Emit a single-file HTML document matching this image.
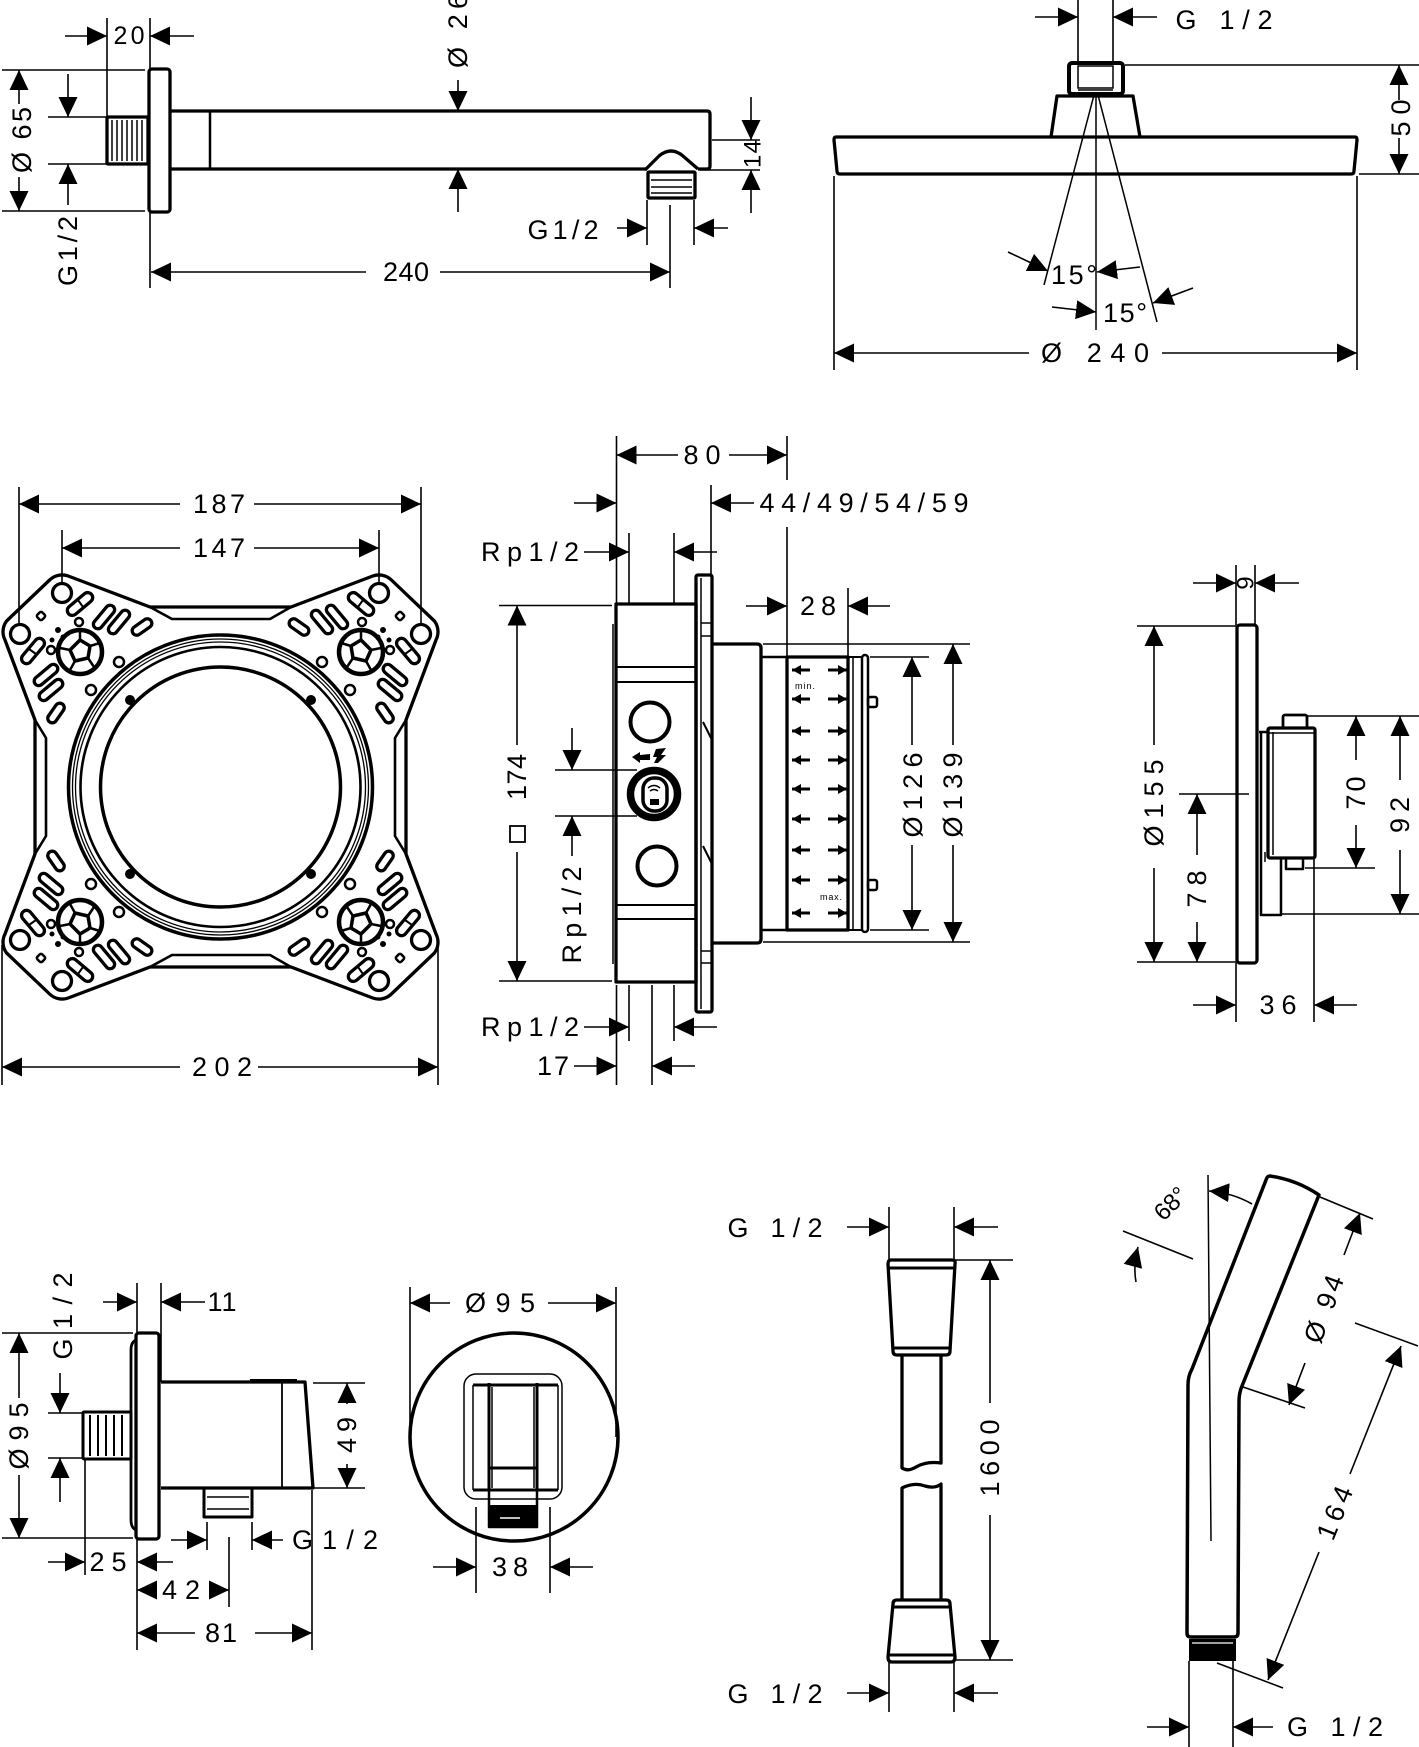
<!DOCTYPE html>
<html><head><meta charset="utf-8">
<style>
html,body{margin:0;padding:0;background:#fff;}
svg{display:block;}
text{font-family:"Liberation Sans","DejaVu Sans",sans-serif;font-size:27px;fill:#000;stroke:none;}
.d{stroke:#000;stroke-width:1.6;fill:none;}
.o{stroke:#000;stroke-width:3.3;fill:none;stroke-linejoin:round;}
.t{stroke:#000;stroke-width:1.5;fill:none;}
</style></head><body>
<svg width="1419" height="1747" viewBox="0 0 1419 1747" xmlns="http://www.w3.org/2000/svg">
<defs>
<marker id="a" markerUnits="userSpaceOnUse" markerWidth="20" markerHeight="20" refX="20" refY="10" orient="auto-start-reverse" viewBox="0 0 20 20"><path d="M0,0.5L20,10L0,19.5z" fill="#000"/></marker>
<marker id="s" markerUnits="userSpaceOnUse" markerWidth="9" markerHeight="10" refX="9" refY="5" orient="auto" viewBox="0 0 9 10"><path d="M0,0L9,5L0,10z" fill="#000"/></marker>
</defs>
<rect width="1419" height="1747" fill="#fff"/>

<!-- ============ 1. Shower arm ============ -->
<g class="o">
<rect x="149" y="69" width="21" height="143" rx="3"/>
<rect x="107" y="117" width="41" height="47" rx="1"/>
<path d="M170,111 H707 Q710,111 710,114 V166 Q710,169 707,169 H698"/>
<path d="M170,169 H646"/>
<line x1="210" y1="111" x2="210" y2="169" stroke-width="2.5"/>
<path d="M645,170 L659,156 Q671,146 683,156 L698,169"/>
<rect x="648" y="172" width="47" height="26" rx="1"/>
</g>
<g class="t">
<line x1="112" y1="120" x2="112" y2="161"/><line x1="117" y1="120" x2="117" y2="161"/><line x1="122" y1="120" x2="122" y2="161"/><line x1="127" y1="120" x2="127" y2="161"/><line x1="132" y1="120" x2="132" y2="161"/><line x1="137" y1="120" x2="137" y2="161"/><line x1="142" y1="120" x2="142" y2="161"/>
<line x1="651" y1="180" x2="692" y2="180"/><line x1="651" y1="187" x2="692" y2="187"/><line x1="651" y1="193" x2="692" y2="193"/>
</g>
<g class="d">
<line x1="107" y1="18" x2="107" y2="117"/>
<line x1="150" y1="18" x2="150" y2="69"/>
<line x1="65" y1="36" x2="107" y2="36" marker-end="url(#a)"/>
<line x1="194" y1="36" x2="150" y2="36" marker-end="url(#a)"/>
<line x1="458" y1="80" x2="458" y2="111" marker-end="url(#a)"/>
<line x1="458" y1="212" x2="458" y2="169" marker-end="url(#a)"/>
<line x1="2" y1="70" x2="145" y2="70"/>
<line x1="2" y1="211" x2="145" y2="211"/>
<line x1="19" y1="104" x2="19" y2="70" marker-end="url(#a)"/>
<line x1="19" y1="177" x2="19" y2="211" marker-end="url(#a)"/>
<line x1="48" y1="117" x2="107" y2="117"/>
<line x1="48" y1="164" x2="107" y2="164"/>
<line x1="68" y1="74" x2="68" y2="117" marker-end="url(#a)"/>
<line x1="68" y1="205" x2="68" y2="164" marker-end="url(#a)"/>
<line x1="712" y1="140" x2="760" y2="140"/>
<line x1="700" y1="170" x2="760" y2="170"/>
<line x1="751" y1="97" x2="751" y2="140" marker-end="url(#a)"/>
<line x1="751" y1="213" x2="751" y2="170" marker-end="url(#a)"/>
<line x1="647" y1="200" x2="647" y2="245"/>
<line x1="694" y1="200" x2="694" y2="245"/>
<line x1="617" y1="228" x2="647" y2="228" marker-end="url(#a)"/>
<line x1="728" y1="228" x2="694" y2="228" marker-end="url(#a)"/>
<line x1="366" y1="272" x2="151" y2="272" marker-end="url(#a)"/>
<line x1="440" y1="272" x2="670" y2="272" marker-end="url(#a)"/>
<line x1="150" y1="212" x2="150" y2="288"/>
<line x1="670" y1="205" x2="670" y2="288"/>
</g>
<text x="129" y="36" text-anchor="middle" dominant-baseline="central" textLength="31" lengthAdjust="spacing" style="font-size:25px">20</text>
<text x="458" y="31" text-anchor="middle" dominant-baseline="central" textLength="74" lengthAdjust="spacing" transform="rotate(-90 458 31)">Ø 26</text>
<text x="22" y="140" text-anchor="middle" dominant-baseline="central" textLength="66" lengthAdjust="spacing" transform="rotate(-90 22 140)">Ø 65</text>
<text x="68" y="251" text-anchor="middle" dominant-baseline="central" textLength="70" lengthAdjust="spacing" transform="rotate(-90 68 251)">G1/2</text>
<text x="753" y="154" text-anchor="middle" dominant-baseline="central" textLength="28" lengthAdjust="spacing" style="font-size:24px" transform="rotate(-90 753 154)">14</text>
<text x="563" y="230" text-anchor="middle" dominant-baseline="central" textLength="71" lengthAdjust="spacing">G1/2</text>
<text x="406" y="272" text-anchor="middle" dominant-baseline="central" textLength="46" lengthAdjust="spacing">240</text>

<!-- ============ 2. Shower head ============ -->
<g class="o">
<rect x="1069" y="63" width="54" height="31" rx="3" stroke-width="4"/>
<path d="M1051,137 L1057,96 L1133,96 L1140,137"/>
<path d="M836,137 L1355,137 Q1357,137 1357,140 L1354,171 Q1354,174 1351,174 L840,174 Q837,174 837,171 L834,140 Q834,137 836,137Z"/>
</g>
<g class="t">
<rect x="1078" y="66" width="35" height="22"/>
<line x1="1078" y1="90" x2="1113" y2="90"/>
<line x1="1096" y1="93" x2="1096" y2="330"/>
<line x1="1094" y1="95" x2="1044" y2="285"/>
<line x1="1098" y1="95" x2="1157" y2="322"/>
</g>
<g class="d">
<line x1="1008" y1="252" x2="1048" y2="271" marker-end="url(#a)"/>
<line x1="1140" y1="267" x2="1097" y2="272" marker-end="url(#a)"/>
<line x1="1052" y1="307" x2="1096" y2="312" marker-end="url(#a)"/>
<line x1="1193" y1="288" x2="1153" y2="303" marker-end="url(#a)"/>
<line x1="1125" y1="65" x2="1419" y2="65"/>
<line x1="1359" y1="174" x2="1419" y2="174"/>
<line x1="1399" y1="100" x2="1399" y2="65" marker-end="url(#a)"/>
<line x1="1399" y1="138" x2="1399" y2="174" marker-end="url(#a)"/>
<line x1="1078" y1="0" x2="1078" y2="63"/>
<line x1="1113" y1="0" x2="1113" y2="63"/>
<line x1="1035" y1="17" x2="1078" y2="17" marker-end="url(#a)"/>
<line x1="1157" y1="17" x2="1113" y2="17" marker-end="url(#a)"/>
<line x1="1029" y1="353" x2="834" y2="353" marker-end="url(#a)"/>
<line x1="1162" y1="353" x2="1357" y2="353" marker-end="url(#a)"/>
<line x1="834" y1="176" x2="834" y2="370"/>
<line x1="1357" y1="176" x2="1357" y2="370"/>
</g>
<text x="1224" y="20" text-anchor="middle" dominant-baseline="central" textLength="97" lengthAdjust="spacing">G 1/2</text>
<text x="1401" y="118" text-anchor="middle" dominant-baseline="central" textLength="37" lengthAdjust="spacing" transform="rotate(-90 1401 118)">50</text>
<text x="1074" y="275" text-anchor="middle" dominant-baseline="central" textLength="46" lengthAdjust="spacing">15°</text>
<text x="1125" y="313" text-anchor="middle" dominant-baseline="central" textLength="44" lengthAdjust="spacing">15°</text>
<text x="1095" y="353" text-anchor="middle" dominant-baseline="central" textLength="108" lengthAdjust="spacing">Ø 240</text>

<!-- ============ 3. Mounting plate ============ -->
<g class="o">
<path d="M35,720 L5,640 A18,18 0 0 1 6.6,621 L49.6,580 A18,18 0 0 1 68.2,576 L150,607 L291,607 L372.8,576 A18,18 0 0 1 391.4,580 L434.4,621 A18,18 0 0 1 436,640 L406,720 L406,854 L436,934 A18,18 0 0 1 434.4,953 L391.4,994 A18,18 0 0 1 372.8,998 L291,967 L150,967 L68.2,998 A18,18 0 0 1 49.6,994 L6.6,953 A18,18 0 0 1 5,934 L35,854 Z"/>
<path d="M150,607 L172,619 L270,619 L291,607" stroke-width="2.6"/>
<path d="M150,967 L172,955 L270,955 L291,967" stroke-width="2.6"/>
<path d="M35,720 L46,738 L46,836 L35,854" stroke-width="2.6"/>
<path d="M406,720 L395,738 L395,836 L406,854" stroke-width="2.6"/>
<circle cx="220.5" cy="787" r="152" stroke-width="3.5"/>
<circle cx="220.5" cy="787" r="148" stroke-width="1.3"/>
<circle cx="220.5" cy="787" r="145" stroke-width="1.3"/>
<circle cx="220.5" cy="787" r="140" stroke-width="2.6"/>
<circle cx="220.5" cy="787" r="120" stroke-width="3.5"/>
</g>
<g fill="#000">
<circle cx="130" cy="700" r="5"/><circle cx="311" cy="700" r="5"/><circle cx="130" cy="874" r="5"/><circle cx="311" cy="874" r="5"/>
</g>
<g id="lobe">
<g class="o" stroke-width="3">
<circle cx="62" cy="593" r="9.5"/>
<circle cx="20" cy="634" r="9.5"/>
<circle cx="80" cy="652" r="22" stroke-width="4.5"/>
<path d="M80,640 L90,646 L88,658 L75,661 L70,650 Z" stroke-width="3.5"/>
<line x1="80" y1="640" x2="80" y2="630" stroke-width="2.5"/>
<line x1="90" y1="646" x2="100" y2="643" stroke-width="2.5"/>
<line x1="88" y1="658" x2="94" y2="667" stroke-width="2.5"/>
<line x1="75" y1="661" x2="70" y2="670" stroke-width="2.5"/>
<line x1="70" y1="650" x2="60" y2="648" stroke-width="2.5"/>
<rect x="37.5" y="612.5" width="7" height="7" rx="2" transform="rotate(45 41 616)" stroke-width="2.5"/>
</g>
<g fill="#000"><circle cx="58" cy="630" r="3"/><circle cx="52" cy="640" r="2.5"/><circle cx="63" cy="637" r="2.5"/></g>
<g id="slots" class="o" stroke-width="2.8">
<rect x="65" y="599" width="30" height="10" rx="5" transform="rotate(-40 80 604)"/>
<line x1="78" y1="600" x2="83" y2="607" stroke-width="2"/>
<rect x="90" y="612.5" width="28" height="9" rx="4.5" transform="rotate(-50 104 617)"/>
<rect x="105" y="617.5" width="28" height="9" rx="4.5" transform="rotate(-50 119 622)"/>
<rect x="131" y="622.5" width="22" height="9" rx="4.5" transform="rotate(-35 142 627)"/>
<circle cx="119" cy="662" r="5" stroke-width="2.5"/>
<circle cx="79" cy="622" r="4" stroke-width="2.5"/>
</g>
<use href="#slots" transform="matrix(0 1 1 0 -571 571)"/>
</g>
<use href="#lobe" transform="matrix(-1 0 0 1 441 0)"/>
<use href="#lobe" transform="matrix(1 0 0 -1 0 1574)"/>
<use href="#lobe" transform="matrix(-1 0 0 -1 441 1574)"/>
<g class="d">
<line x1="180" y1="504" x2="19" y2="504" marker-end="url(#a)"/>
<line x1="254" y1="504" x2="421" y2="504" marker-end="url(#a)"/>
<line x1="19" y1="487" x2="19" y2="625"/>
<line x1="421" y1="487" x2="421" y2="625"/>
<line x1="180" y1="548" x2="62" y2="548" marker-end="url(#a)"/>
<line x1="254" y1="548" x2="379" y2="548" marker-end="url(#a)"/>
<line x1="62" y1="530" x2="62" y2="584"/>
<line x1="379" y1="530" x2="379" y2="584"/>
<line x1="180" y1="1067" x2="2" y2="1067" marker-end="url(#a)"/>
<line x1="258" y1="1067" x2="438" y2="1067" marker-end="url(#a)"/>
<line x1="2" y1="945" x2="2" y2="1085"/>
<line x1="438" y1="945" x2="438" y2="1085"/>
</g>
<text x="219" y="504" text-anchor="middle" dominant-baseline="central" textLength="52" lengthAdjust="spacing">187</text>
<text x="219" y="548" text-anchor="middle" dominant-baseline="central" textLength="52" lengthAdjust="spacing">147</text>
<text x="222" y="1067" text-anchor="middle" dominant-baseline="central" textLength="60" lengthAdjust="spacing">202</text>

<!-- ============ 4. Concealed box ============ -->
<g class="o">
<rect x="616" y="604" width="80" height="378"/>
<rect x="696" y="575" width="16" height="437" rx="2"/>
<path d="M712,644 L757,644 Q761,644 761,648 L761,939 Q761,943 757,943 L712,943"/>
<rect x="787" y="657" width="61" height="273"/>
<rect x="862" y="655" width="6" height="277" rx="3" stroke-width="2.5"/>
<circle cx="650" cy="722" r="19.5" stroke-width="4"/>
<circle cx="654" cy="794" r="23.5" stroke-width="7.5"/>
<circle cx="657" cy="866" r="19.5" stroke-width="4"/>
<rect x="643" y="778" width="24" height="33" rx="11" stroke-width="3.5"/>
</g>
<g class="t">
<line x1="613" y1="624" x2="613" y2="964"/>
<line x1="616" y1="667" x2="696" y2="667" stroke-width="2"/>
<line x1="616" y1="682" x2="696" y2="682" stroke-width="2"/>
<line x1="616" y1="905" x2="696" y2="905" stroke-width="2"/>
<line x1="616" y1="919" x2="696" y2="919" stroke-width="2"/>
<line x1="701" y1="578" x2="701" y2="1009"/>
<line x1="701" y1="623" x2="712" y2="623"/><line x1="701" y1="636" x2="712" y2="636"/>
<line x1="701" y1="951" x2="712" y2="951"/><line x1="701" y1="963" x2="712" y2="963"/>
<line x1="703" y1="722" x2="712" y2="740" stroke-width="2"/>
<line x1="703" y1="846" x2="712" y2="864" stroke-width="2"/>
<line x1="761" y1="657" x2="787" y2="657" stroke-width="2.5"/>
<line x1="761" y1="930" x2="787" y2="930" stroke-width="2.5"/>
<line x1="853" y1="657" x2="853" y2="930"/>
<line x1="848" y1="657" x2="862" y2="657" stroke-width="2"/>
<line x1="848" y1="930" x2="862" y2="930" stroke-width="2"/>
<rect x="868" y="697" width="9" height="10" rx="2" stroke-width="2.5"/>
<rect x="868" y="880" width="9" height="10" rx="2" stroke-width="2.5"/>
<path d="M648,788 Q654,783 660,788 M650,791 Q654,788 658,791" stroke-width="1.5"/>
</g>
<rect x="650" y="799" width="9" height="6" fill="#000"/>
<path d="M632,757 L640,752 L640,755 L650,754 L650,760 L640,760 L640,763Z" fill="#000"/>
<path d="M656,749 L666,748 L661,755 L666,755 L658,763 L654,763 L657,757 L653,757Z" fill="#000"/>
<g stroke="#000" stroke-width="3">
<line x1="810" y1="670" x2="792" y2="670" marker-end="url(#s)"/><line x1="828" y1="670" x2="847" y2="670" marker-end="url(#s)"/>
<line x1="810" y1="699" x2="792" y2="699" marker-end="url(#s)"/><line x1="828" y1="699" x2="847" y2="699" marker-end="url(#s)"/>
<line x1="810" y1="731" x2="792" y2="731" marker-end="url(#s)"/><line x1="828" y1="731" x2="847" y2="731" marker-end="url(#s)"/>
<line x1="810" y1="760" x2="792" y2="760" marker-end="url(#s)"/><line x1="828" y1="760" x2="847" y2="760" marker-end="url(#s)"/>
<line x1="810" y1="789" x2="792" y2="789" marker-end="url(#s)"/><line x1="828" y1="789" x2="847" y2="789" marker-end="url(#s)"/>
<line x1="810" y1="819" x2="792" y2="819" marker-end="url(#s)"/><line x1="828" y1="819" x2="847" y2="819" marker-end="url(#s)"/>
<line x1="810" y1="850" x2="792" y2="850" marker-end="url(#s)"/><line x1="828" y1="850" x2="847" y2="850" marker-end="url(#s)"/>
<line x1="810" y1="880" x2="792" y2="880" marker-end="url(#s)"/><line x1="828" y1="880" x2="847" y2="880" marker-end="url(#s)"/>
<line x1="810" y1="913" x2="792" y2="913" marker-end="url(#s)"/><line x1="828" y1="913" x2="847" y2="913" marker-end="url(#s)"/>
</g>
<text x="805" y="686" text-anchor="middle" dominant-baseline="central" style="font-size:9px" textLength="20" lengthAdjust="spacing">min.</text>
<text x="831" y="897" text-anchor="middle" dominant-baseline="central" style="font-size:9px" textLength="22" lengthAdjust="spacing">max.</text>
<g class="d">
<line x1="616.5" y1="436" x2="616.5" y2="604"/>
<line x1="787" y1="436" x2="787" y2="480"/>
<line x1="787" y1="527" x2="787" y2="657"/>
<line x1="678" y1="455" x2="616.5" y2="455" marker-end="url(#a)"/>
<line x1="729" y1="455" x2="787" y2="455" marker-end="url(#a)"/>
<line x1="574" y1="503" x2="616.5" y2="503" marker-end="url(#a)"/>
<line x1="711" y1="485" x2="711" y2="575"/>
<line x1="754" y1="503" x2="711" y2="503" marker-end="url(#a)"/>
<line x1="629" y1="533" x2="629" y2="604"/>
<line x1="674" y1="533" x2="674" y2="604"/>
<line x1="584" y1="552" x2="629" y2="552" marker-end="url(#a)"/>
<line x1="717" y1="552" x2="674" y2="552" marker-end="url(#a)"/>
<line x1="848" y1="588" x2="848" y2="657"/>
<line x1="746" y1="606" x2="787" y2="606" marker-end="url(#a)"/>
<line x1="890" y1="606" x2="848" y2="606" marker-end="url(#a)"/>
<line x1="499" y1="605.5" x2="612" y2="605.5"/>
<line x1="499" y1="981" x2="612" y2="981"/>
<line x1="517" y1="745" x2="517" y2="605.5" marker-end="url(#a)"/>
<line x1="517" y1="852" x2="517" y2="981" marker-end="url(#a)"/>
<line x1="555" y1="770" x2="637" y2="770"/>
<line x1="555" y1="816" x2="637" y2="816"/>
<line x1="572" y1="728" x2="572" y2="770" marker-end="url(#a)"/>
<line x1="572" y1="856" x2="572" y2="816" marker-end="url(#a)"/>
<line x1="870" y1="657" x2="929" y2="657"/>
<line x1="870" y1="930" x2="929" y2="930"/>
<line x1="912" y1="745" x2="912" y2="657" marker-end="url(#a)"/>
<line x1="912" y1="845" x2="912" y2="930" marker-end="url(#a)"/>
<line x1="763" y1="644" x2="970" y2="644"/>
<line x1="763" y1="942" x2="970" y2="942"/>
<line x1="953" y1="745" x2="953" y2="644" marker-end="url(#a)"/>
<line x1="953" y1="845" x2="953" y2="942" marker-end="url(#a)"/>
<line x1="629" y1="985" x2="629" y2="1041"/>
<line x1="674" y1="985" x2="674" y2="1041"/>
<line x1="584" y1="1027" x2="629" y2="1027" marker-end="url(#a)"/>
<line x1="717" y1="1027" x2="674" y2="1027" marker-end="url(#a)"/>
<line x1="616.5" y1="985" x2="616.5" y2="1085"/>
<line x1="652" y1="985" x2="652" y2="1085"/>
<line x1="574" y1="1066" x2="616.5" y2="1066" marker-end="url(#a)"/>
<line x1="695" y1="1066" x2="652" y2="1066" marker-end="url(#a)"/>
</g>
<rect x="510" y="826" width="15" height="16" fill="none" stroke="#000" stroke-width="1.8"/>
<text x="702" y="455" text-anchor="middle" dominant-baseline="central" textLength="37" lengthAdjust="spacing">80</text>
<text x="864" y="503" text-anchor="middle" dominant-baseline="central" textLength="209" lengthAdjust="spacing">44/49/54/59</text>
<text x="530" y="552" text-anchor="middle" dominant-baseline="central" textLength="98" lengthAdjust="spacing">Rp1/2</text>
<text x="818" y="606" text-anchor="middle" dominant-baseline="central" textLength="36" lengthAdjust="spacing">28</text>
<text x="517" y="777" text-anchor="middle" dominant-baseline="central" textLength="46" lengthAdjust="spacing" transform="rotate(-90 517 777)">174</text>
<text x="572" y="915" text-anchor="middle" dominant-baseline="central" textLength="97" lengthAdjust="spacing" transform="rotate(-90 572 915)">Rp1/2</text>
<text x="913" y="795" text-anchor="middle" dominant-baseline="central" textLength="85" lengthAdjust="spacing" transform="rotate(-90 913 795)">Ø126</text>
<text x="953" y="795" text-anchor="middle" dominant-baseline="central" textLength="85" lengthAdjust="spacing" transform="rotate(-90 953 795)">Ø139</text>
<text x="530" y="1027" text-anchor="middle" dominant-baseline="central" textLength="98" lengthAdjust="spacing">Rp1/2</text>
<text x="553" y="1066" text-anchor="middle" dominant-baseline="central" textLength="32" lengthAdjust="spacing">17</text>

<!-- ============ 5. Thermostat trim ============ -->
<g class="o">
<rect x="1237" y="625" width="20" height="338" rx="3"/>
<rect x="1268" y="728" width="47" height="130" rx="2"/>
<rect x="1283" y="715" width="24" height="13" rx="2" stroke-width="2.8"/>
<rect x="1286" y="858" width="17" height="11" stroke-width="2.5"/>
<path d="M1259,732 L1268,732 M1261,732 L1261,915 L1281,915 L1281,858" stroke-width="2.5"/>
</g>
<g class="t">
<line x1="1273" y1="732" x2="1273" y2="855"/>
<line x1="1268" y1="733" x2="1315" y2="733"/>
<line x1="1265" y1="852" x2="1265" y2="862"/>
</g>
<g class="d">
<line x1="1236" y1="565" x2="1236" y2="625"/>
<line x1="1255" y1="565" x2="1255" y2="625"/>
<line x1="1193" y1="583" x2="1236" y2="583" marker-end="url(#a)"/>
<line x1="1299" y1="583" x2="1255" y2="583" marker-end="url(#a)"/>
<line x1="1137" y1="626" x2="1238" y2="626"/>
<line x1="1137" y1="962" x2="1238" y2="962"/>
<line x1="1154" y1="745" x2="1154" y2="626" marker-end="url(#a)"/>
<line x1="1154" y1="868" x2="1154" y2="962" marker-end="url(#a)"/>
<line x1="1179" y1="794" x2="1249" y2="794"/>
<line x1="1197" y1="855" x2="1197" y2="794" marker-end="url(#a)"/>
<line x1="1197" y1="922" x2="1197" y2="962" marker-end="url(#a)"/>
<line x1="1307" y1="716" x2="1419" y2="716"/>
<line x1="1305" y1="868" x2="1375" y2="868"/>
<line x1="1282" y1="914" x2="1419" y2="914"/>
<line x1="1356" y1="760" x2="1356" y2="716" marker-end="url(#a)"/>
<line x1="1356" y1="825" x2="1356" y2="868" marker-end="url(#a)"/>
<line x1="1400" y1="780" x2="1400" y2="716" marker-end="url(#a)"/>
<line x1="1400" y1="850" x2="1400" y2="914" marker-end="url(#a)"/>
<line x1="1236" y1="963" x2="1236" y2="1022"/>
<line x1="1314" y1="858" x2="1314" y2="1022"/>
<line x1="1193" y1="1005" x2="1236" y2="1005" marker-end="url(#a)"/>
<line x1="1357" y1="1005" x2="1314" y2="1005" marker-end="url(#a)"/>
</g>
<text x="1246" y="583" text-anchor="middle" dominant-baseline="central" style="font-size:24px" transform="rotate(-90 1246 583)">9</text>
<text x="1154" y="803" text-anchor="middle" dominant-baseline="central" textLength="87" lengthAdjust="spacing" transform="rotate(-90 1154 803)">Ø155</text>
<text x="1197" y="889" text-anchor="middle" dominant-baseline="central" textLength="37" lengthAdjust="spacing" transform="rotate(-90 1197 889)">78</text>
<text x="1356" y="793" text-anchor="middle" dominant-baseline="central" textLength="33" lengthAdjust="spacing" transform="rotate(-90 1356 793)">70</text>
<text x="1400" y="815" text-anchor="middle" dominant-baseline="central" textLength="36" lengthAdjust="spacing" transform="rotate(-90 1400 815)">92</text>
<text x="1278" y="1005" text-anchor="middle" dominant-baseline="central" textLength="37" lengthAdjust="spacing">36</text>

<!-- ============ 6. Wall outlet ============ -->
<g class="o">
<rect x="136" y="1333" width="23" height="206" rx="3"/>
<path d="M136,1340 Q131,1342 131,1350 L131,1520 Q131,1528 136,1530" stroke-width="2.8"/>
<rect x="83" y="1412" width="48" height="47" rx="1" stroke-width="3"/>
<path d="M161,1382 L305,1382 L313,1488 L161,1488"/>
<rect x="204" y="1488" width="48" height="29" stroke-width="3"/>
</g>
<g class="t">
<line x1="90" y1="1415" x2="90" y2="1456" stroke-width="2"/><line x1="98" y1="1415" x2="98" y2="1456" stroke-width="2"/><line x1="106" y1="1415" x2="106" y2="1456" stroke-width="2"/><line x1="114" y1="1415" x2="114" y2="1456" stroke-width="2"/><line x1="122" y1="1415" x2="122" y2="1456" stroke-width="2"/>
<line x1="282" y1="1382" x2="282" y2="1488" stroke-width="1.8"/>
<line x1="250" y1="1380" x2="297" y2="1380" stroke-width="2"/>
<line x1="207" y1="1497" x2="249" y2="1497"/><line x1="207" y1="1509" x2="249" y2="1509"/>
</g>
<g class="d">
<line x1="137" y1="1283" x2="137" y2="1333"/>
<line x1="161" y1="1283" x2="161" y2="1382"/>
<line x1="103" y1="1302" x2="137" y2="1302" marker-end="url(#a)"/>
<line x1="205" y1="1302" x2="161" y2="1302" marker-end="url(#a)"/>
<line x1="48" y1="1413" x2="83" y2="1413"/>
<line x1="48" y1="1458" x2="83" y2="1458"/>
<line x1="60" y1="1373" x2="60" y2="1413" marker-end="url(#a)"/>
<line x1="60" y1="1502" x2="60" y2="1458" marker-end="url(#a)"/>
<line x1="2" y1="1333" x2="133" y2="1333"/>
<line x1="2" y1="1538" x2="133" y2="1538"/>
<line x1="19" y1="1398" x2="19" y2="1333" marker-end="url(#a)"/>
<line x1="19" y1="1475" x2="19" y2="1538" marker-end="url(#a)"/>
<line x1="313" y1="1383" x2="365" y2="1383"/>
<line x1="313" y1="1488" x2="365" y2="1488"/>
<line x1="347" y1="1404" x2="347" y2="1383" marker-end="url(#a)"/>
<line x1="347" y1="1464" x2="347" y2="1488" marker-end="url(#a)"/>
<line x1="207" y1="1522" x2="207" y2="1550"/>
<line x1="252" y1="1522" x2="252" y2="1550"/>
<line x1="171" y1="1540" x2="207" y2="1540" marker-end="url(#a)"/>
<line x1="283" y1="1540" x2="252" y2="1540" marker-end="url(#a)"/>
<line x1="85" y1="1459" x2="85" y2="1575"/>
<line x1="137" y1="1539" x2="137" y2="1650"/>
<line x1="48" y1="1562" x2="85" y2="1562" marker-end="url(#a)"/>
<line x1="173" y1="1562" x2="137" y2="1562" marker-end="url(#a)"/>
<line x1="157" y1="1590" x2="137" y2="1590" marker-end="url(#a)"/>
<line x1="209" y1="1590" x2="229" y2="1590" marker-end="url(#a)"/>
<line x1="229" y1="1537" x2="229" y2="1607"/>
<line x1="195" y1="1633" x2="137" y2="1633" marker-end="url(#a)"/>
<line x1="255" y1="1633" x2="312" y2="1633" marker-end="url(#a)"/>
<line x1="312" y1="1490" x2="312" y2="1650"/>
</g>
<text x="63" y="1316" text-anchor="middle" dominant-baseline="central" textLength="87" lengthAdjust="spacing" transform="rotate(-90 63 1316)">G1/2</text>
<text x="222" y="1302" text-anchor="middle" dominant-baseline="central" textLength="29" lengthAdjust="spacing">11</text>
<text x="19" y="1436" text-anchor="middle" dominant-baseline="central" textLength="67" lengthAdjust="spacing" transform="rotate(-90 19 1436)">Ø95</text>
<text x="347" y="1435" text-anchor="middle" dominant-baseline="central" textLength="36" lengthAdjust="spacing" transform="rotate(-90 347 1435)">49</text>
<text x="335" y="1540" text-anchor="middle" dominant-baseline="central" textLength="86" lengthAdjust="spacing">G1/2</text>
<text x="108" y="1562" text-anchor="middle" dominant-baseline="central" textLength="37" lengthAdjust="spacing">25</text>
<text x="181" y="1590" text-anchor="middle" dominant-baseline="central" textLength="38" lengthAdjust="spacing">42</text>
<text x="221" y="1633" text-anchor="middle" dominant-baseline="central" textLength="32" lengthAdjust="spacing">81</text>

<!-- ============ 7. Round plate ============ -->
<g class="o">
<circle cx="514" cy="1437" r="104" stroke-width="3.5"/>
<path d="M473,1385 H558 M473,1490 H558 M489,1383 V1490 M537,1383 V1490 M489,1468 H537" stroke-width="3"/>
<rect x="489" y="1490" width="48" height="37" stroke-width="2.5"/>
</g>
<g class="t">
<rect x="464" y="1374" width="98" height="125" rx="12"/>
<line x1="473" y1="1385" x2="473" y2="1490"/>
<line x1="558" y1="1385" x2="558" y2="1490"/>
<line x1="492" y1="1387" x2="492" y2="1488"/>
<line x1="534" y1="1387" x2="534" y2="1488"/>
</g>
<rect x="490" y="1505" width="46" height="21" fill="#000"/>
<line x1="500" y1="1518" x2="520" y2="1518" stroke="#fff" stroke-width="1.5"/>
<g class="d">
<line x1="450" y1="1303" x2="410" y2="1303" marker-end="url(#a)"/>
<line x1="548" y1="1303" x2="616" y2="1303" marker-end="url(#a)"/>
<line x1="410" y1="1287" x2="410" y2="1437"/>
<line x1="616" y1="1287" x2="616" y2="1437"/>
<line x1="476" y1="1507" x2="476" y2="1593"/>
<line x1="550" y1="1507" x2="550" y2="1593"/>
<line x1="433" y1="1567" x2="476" y2="1567" marker-end="url(#a)"/>
<line x1="593" y1="1567" x2="550" y2="1567" marker-end="url(#a)"/>
</g>
<text x="500" y="1303" text-anchor="middle" dominant-baseline="central" textLength="70" lengthAdjust="spacing">Ø95</text>
<text x="510" y="1567" text-anchor="middle" dominant-baseline="central" textLength="36" lengthAdjust="spacing">38</text>

<!-- ============ 8. Hose ============ -->
<g class="o">
<path d="M891,1260 L952,1260 Q956,1260 955,1264 L950,1351 Q950,1355 946,1355 L897,1355 Q893,1355 893,1351 L888,1264 Q888,1260 891,1260Z"/>
<line x1="889" y1="1268" x2="954" y2="1268" stroke-width="3"/>
<line x1="893" y1="1348" x2="950" y2="1348" stroke-width="3"/>
<path d="M902,1355 L902,1468 Q908,1472 916,1467 Q926,1461 941,1463 L941,1355"/>
<path d="M902,1600 L902,1488 Q914,1482 925,1486 Q935,1489 941,1484 L941,1600"/>
<path d="M897,1600 L946,1600 Q950,1600 950,1604 L955,1657 Q955,1662 951,1662 L892,1662 Q888,1662 888,1657 L893,1604 Q893,1600 897,1600Z"/>
<line x1="893" y1="1607" x2="950" y2="1607" stroke-width="3"/>
<line x1="889" y1="1655" x2="954" y2="1655" stroke-width="3"/>
</g>
<g class="d">
<line x1="889" y1="1207" x2="889" y2="1260"/>
<line x1="954" y1="1207" x2="954" y2="1260"/>
<line x1="847" y1="1227" x2="889" y2="1227" marker-end="url(#a)"/>
<line x1="998" y1="1227" x2="954" y2="1227" marker-end="url(#a)"/>
<line x1="955" y1="1260" x2="1013" y2="1260"/>
<line x1="955" y1="1660" x2="1013" y2="1660"/>
<line x1="990" y1="1403" x2="990" y2="1260" marker-end="url(#a)"/>
<line x1="990" y1="1515" x2="990" y2="1660" marker-end="url(#a)"/>
<line x1="889" y1="1662" x2="889" y2="1712"/>
<line x1="954" y1="1662" x2="954" y2="1712"/>
<line x1="847" y1="1693" x2="889" y2="1693" marker-end="url(#a)"/>
<line x1="998" y1="1693" x2="954" y2="1693" marker-end="url(#a)"/>
</g>
<text x="775" y="1228" text-anchor="middle" dominant-baseline="central" textLength="95" lengthAdjust="spacing">G 1/2</text>
<text x="990" y="1458" text-anchor="middle" dominant-baseline="central" textLength="77" lengthAdjust="spacing" transform="rotate(-90 990 1458)">1600</text>
<text x="775" y="1694" text-anchor="middle" dominant-baseline="central" textLength="95" lengthAdjust="spacing">G 1/2</text>

<!-- ============ 9. Hand shower ============ -->
<g class="o">
<path d="M1270,1176 Q1297,1180 1319,1195 L1242,1386 Q1239,1393 1239,1402 L1238,1633 Q1238,1637 1234,1637 L1191,1637 Q1187,1637 1187,1633 L1188,1385 Q1188,1376 1192,1369 L1266,1180 Q1267,1176 1270,1176Z" stroke-width="3.5"/>
</g>
<rect x="1189" y="1639" width="47" height="22" fill="#000"/>
<line x1="1192" y1="1643" x2="1233" y2="1643" stroke="#fff" stroke-width="1.2"/>
<g class="t">
<line x1="1208" y1="1175" x2="1211" y2="1541"/>
</g>
<g class="d">
<line x1="1123" y1="1231" x2="1193" y2="1259"/>
<path d="M1136,1282 Q1133,1266 1138,1247" marker-end="url(#a)"/>
<path d="M1252,1204 Q1233,1193 1209,1191" marker-end="url(#a)"/>
<line x1="1320" y1="1197" x2="1373" y2="1219"/>
<line x1="1243" y1="1387" x2="1305" y2="1408"/>
<line x1="1344" y1="1255" x2="1360" y2="1213" marker-end="url(#a)"/>
<line x1="1305" y1="1363" x2="1289" y2="1405" marker-end="url(#a)"/>
<line x1="1355" y1="1323" x2="1418" y2="1346"/>
<line x1="1217" y1="1663" x2="1283" y2="1688"/>
<line x1="1350" y1="1474" x2="1401" y2="1346" marker-end="url(#a)"/>
<line x1="1319" y1="1552" x2="1268" y2="1680" marker-end="url(#a)"/>
<line x1="1189" y1="1661" x2="1189" y2="1747"/>
<line x1="1233" y1="1661" x2="1233" y2="1747"/>
<line x1="1147" y1="1727" x2="1189" y2="1727" marker-end="url(#a)"/>
<line x1="1273" y1="1727" x2="1233" y2="1727" marker-end="url(#a)"/>
</g>
<text x="1171" y="1204" text-anchor="middle" dominant-baseline="central" textLength="36" lengthAdjust="spacing" style="font-size:24px" transform="rotate(-45 1171 1204)">68°</text>
<text x="1324" y="1309" text-anchor="middle" dominant-baseline="central" textLength="70" lengthAdjust="spacing" transform="rotate(-70 1324 1309)">Ø 94</text>
<text x="1335" y="1513" text-anchor="middle" dominant-baseline="central" textLength="55" lengthAdjust="spacing" transform="rotate(-68 1335 1513)">164</text>
<text x="1335" y="1727" text-anchor="middle" dominant-baseline="central" textLength="96" lengthAdjust="spacing">G 1/2</text>
</svg>
</body></html>
